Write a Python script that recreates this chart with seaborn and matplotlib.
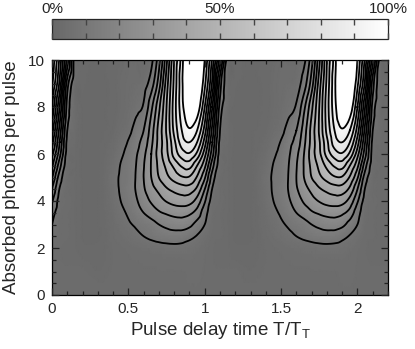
import numpy as np
import matplotlib
matplotlib.use('Agg')
import matplotlib.pyplot as plt
import matplotlib.tri as mtri
import seaborn as sns
from matplotlib.colors import LinearSegmentedColormap, Normalize
from matplotlib.cm import ScalarMappable
from matplotlib.ticker import MultipleLocator

# ---- data: one period of the map (percent), period = 1 in T/T_T ----
x_period = [0.0, 0.05, 0.1, 0.15, 0.2, 0.3, 0.4, 0.45, 0.5, 0.55, 0.6, 0.65, 0.7, 0.75, 0.8, 0.85, 0.9, 0.95]
y_photons = [0, 1, 2, 2.5, 3, 3.5, 4, 4.5, 5, 5.5, 6, 6.5, 7, 8, 9, 10]
absorb_pct = [
    [3, 3, 3, 3, 3, 3, 3, 3, 3, 3, 3, 3, 3, 3, 3, 3, 3, 3],                                  # y=0
    [3, 2.5, 2.5, 2.5, 2.5, 2, 2.5, 3, 3, 3, 3, 3, 3, 3, 3, 3, 3.5, 3.5],                    # y=1
    [3.5, 2.5, 2, 2, 1.5, 1.5, 2.5, 3, 3.5, 4, 4.5, 5, 5.5, 6, 6.2, 6, 5.5, 4.5],            # y=2
    [5, 3, 2.5, 2, 1, 1, 3, 4, 5, 6.5, 8, 9.5, 11, 12, 12.5, 12, 10, 7.5],                   # y=2.5
    [8, 3.5, 2.5, 2, 1, 1, 3.5, 5, 7, 9, 11, 13, 16, 18, 19.5, 20, 18, 13],                  # y=3
    [11, 4, 2.5, 2, 1, 1, 4, 6.5, 9, 12.5, 16, 19.5, 23, 25, 26.5, 27, 25.5, 21],            # y=3.5
    [17, 5, 3, 2, 1, 1, 5, 8, 11, 15, 20, 25, 29, 32.5, 35, 36, 35, 29],                     # y=4
    [24, 7.5, 3, 2, 1, 1, 5.5, 8.8, 12, 16.5, 23, 29, 34, 39, 42, 44, 44, 38],               # y=4.5
    [33, 12, 3, 2, 1, 1, 6, 8.8, 11, 16.5, 24, 32, 40, 46, 51, 55, 55, 47],                  # y=5
    [42, 19, 4, 2, 1, 1, 5, 8.3, 11, 16, 23.5, 32.5, 42, 50, 58, 65, 67, 56],                # y=5.5
    [51, 27, 5, 2, 1, 1, 4, 7, 10, 15, 22, 32, 44, 54, 67, 76, 79, 70],                      # y=6
    [60, 32, 6, 2.5, 1, 1, 3, 5.5, 8.5, 13.5, 19, 30, 43, 55, 70, 84, 88, 80],               # y=6.5
    [68, 37, 8, 3, 1, 1, 2, 4, 6, 11, 16, 28, 43, 57, 74, 88, 95, 88],                       # y=7
    [80, 48, 13, 3, 1, 1, 1.5, 2.5, 4, 6, 9, 22, 38, 56, 76, 93, 106, 102],                  # y=8
    [90, 62, 20, 3, 1.5, 1, 1.5, 2.5, 3.5, 4, 5, 12, 28, 52, 74, 94, 112, 110],              # y=9
    [96, 70, 36, 4, 2, 1, 1.5, 2, 3, 3, 3, 6, 21, 46, 72, 92, 118, 118],                     # y=10
]
contour_levels = [8, 16, 24, 32, 40, 48, 56, 64, 72, 80, 88, 96]

x_ticks = [0, 0.5, 1, 1.5, 2]
x_ticklabels = ['0', '0.5', '1', '1.5', '2']
y_ticks = [0, 2, 4, 6, 8, 10]
cbar_ticks = [0, 10, 20, 30, 40, 50, 60, 70, 80, 90, 100]
cbar_labels = ['0%', '', '', '', '', '50%', '', '', '', '', '100%']

# ---- build the full table by repeating the period ----
n_rep = 3
x_full = np.concatenate([np.array(x_period) + k for k in range(n_rep)])
z_full = np.tile(np.array(absorb_pct, dtype=float), n_rep)
keep = x_full <= 2.2 + 1e-9
x_full, z_full = x_full[keep], z_full[:, keep]
X, Y = np.meshgrid(x_full, y_photons)

# triangulate in a rescaled frame (x*10) so the cells are roughly square,
# then let matplotlib's cubic refiner smooth the contours
xs = 10.0
tri_s = mtri.Triangulation(X.ravel() * xs, Y.ravel())
refiner = mtri.UniformTriRefiner(tri_s)
interp = mtri.CubicTriInterpolator(tri_s, z_full.ravel(), kind='geom')
tri_r, z_r = refiner.refine_field(z_full.ravel(), triinterpolator=interp, subdiv=3)
tri_r = mtri.Triangulation(tri_r.x / xs, tri_r.y, tri_r.triangles)

# ---- plot ----
sns.set_style('ticks')
plt.rcParams['font.family'] = ['Liberation Sans', 'DejaVu Sans']

fig = plt.figure(figsize=(4.15, 3.49), dpi=100)
ax = fig.add_axes([52 / 415, 54 / 349, 336 / 415, 235 / 349])
cax = fig.add_axes([52 / 415, 310 / 349, 336 / 415, 20 / 349])

cmap = LinearSegmentedColormap.from_list('grey_white', ['#686868', '#ffffff'])
norm = Normalize(vmin=0, vmax=100, clip=True)

ax.tripcolor(tri_r, np.clip(z_r, 0, 100), cmap=cmap, norm=norm, shading='gouraud')
ax.tricontour(tri_r, z_r, levels=contour_levels, colors='black', linewidths=1.3)

ax.set_axisbelow(False)
ax.set_xlim(0, 2.2)
ax.set_ylim(0, 10)
ax.set_xticks(x_ticks)
ax.set_xticklabels(x_ticklabels)
ax.set_yticks(y_ticks)
ax.xaxis.set_minor_locator(MultipleLocator(0.1))
ax.yaxis.set_minor_locator(MultipleLocator(0.5))
ax.tick_params(which='both', direction='in', top=True, right=True,
               color='#222222', labelsize=11, pad=5)
ax.tick_params(which='major', length=5, width=0.9)
ax.tick_params(which='minor', length=3, width=0.9)
for s in ax.spines.values():
    s.set_linewidth(0.9)
    s.set_color('black')

ax.set_xlabel('Pulse delay time T/T$_{\\mathregular{T}}$', fontsize=13.5, labelpad=3)
ax.set_ylabel('Absorbed photons per pulse', fontsize=13.5, labelpad=6)

# ---- colour bar on top ----
cb = fig.colorbar(ScalarMappable(norm=norm, cmap=cmap), cax=cax, orientation='horizontal')
cb.set_ticks(cbar_ticks)
cb.set_ticklabels(cbar_labels)
cb.outline.set_linewidth(0.9)
cax.set_axisbelow(False)
cax.xaxis.set_ticks_position('both')
cax.tick_params(direction='in', length=4, width=1, color='#444444',
                top=True, bottom=True, labeltop=True, labelbottom=False,
                labelsize=11, pad=2)
cax.minorticks_off()

fig.savefig('out.png', dpi=100)
